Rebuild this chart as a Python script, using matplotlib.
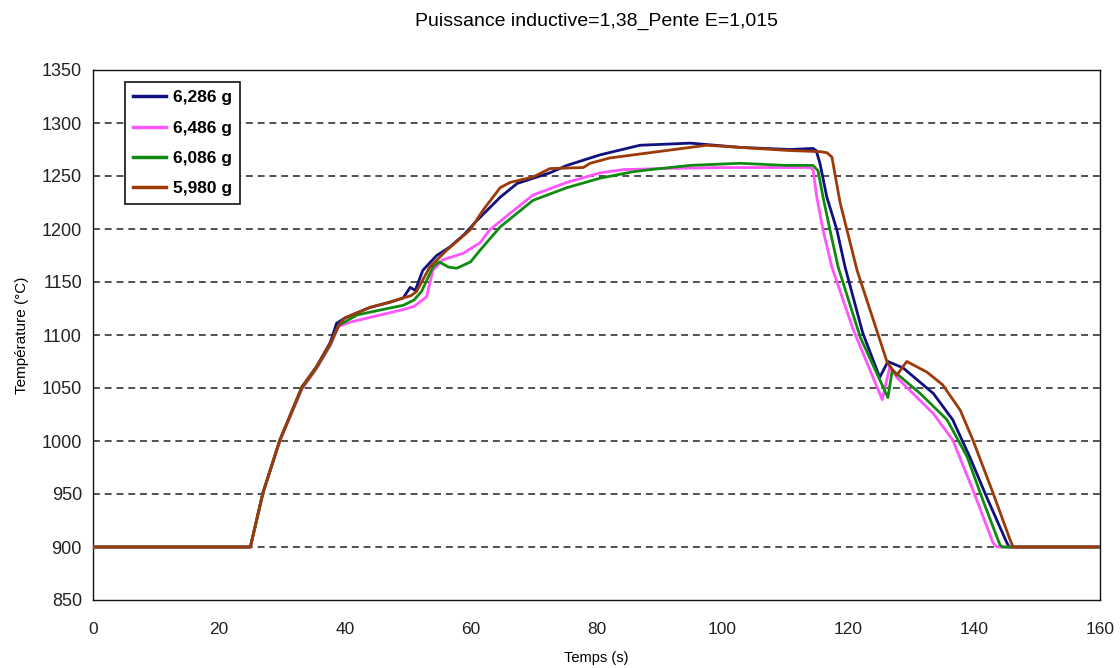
import matplotlib
matplotlib.use("Agg")
import matplotlib.pyplot as plt

plt.rcParams['font.family'] = ['Liberation Sans', 'DejaVu Sans']

# Temperature histories (time in s, temperature in °C)
t_6286 = [0, 25, 27, 29.7, 33.2, 35.5, 37.7, 38.7, 40, 44, 47.2, 49.3, 50.4, 51.2, 52.4,
          54.6, 56.7, 59, 61, 64.7, 67.4, 72.6, 75.3, 80.6, 86.9, 94.9, 102.8, 110.7,
          114.4, 114.9, 115.5, 116.6, 118.2, 119.5, 122.3, 125, 126.3, 128.7, 133.5,
          136.6, 139.3, 142, 145.2, 145.6, 160]
T_6286 = [900, 900, 951, 1001, 1051, 1070, 1093, 1111, 1116, 1126, 1131, 1135, 1145, 1142, 1161,
          1175, 1183, 1195, 1208, 1230, 1243, 1253, 1260, 1270, 1279, 1281, 1277, 1275,
          1276, 1274, 1262, 1230, 1199, 1164, 1102, 1060, 1075, 1069, 1045,
          1020, 985, 947, 904, 900, 900]

t_6486 = [0, 25, 27, 29.7, 33.2, 35.5, 37.7, 39, 40.8, 45, 49.3, 51, 53, 54, 55.6, 58.8,
          61.5, 63, 66.3, 69.9, 75.3, 80.6, 84.2, 90, 100, 108, 114, 114.4, 115, 116,
          117.4, 120.8, 125.4, 126.6, 127.7, 133.5, 136.6, 139.8, 143, 143.6, 160]
T_6486 = [900, 900, 951, 1000, 1049, 1068, 1090, 1108, 1112, 1118, 1124, 1127, 1136, 1161, 1171, 1177,
          1187, 1199, 1215, 1232, 1244, 1253, 1256, 1257, 1258, 1258, 1258, 1256, 1230, 1199,
          1164, 1105, 1039, 1070, 1060, 1026, 1001, 954, 904, 900, 900]

t_6086 = [0, 25, 27, 29.7, 33.2, 35.5, 37.7, 39, 42, 46, 49.3, 51, 52.2, 54, 55, 56.5,
          57.8, 60, 61.5, 64.7, 69.9, 75.3, 80.6, 85.8, 88.5, 94.9, 102.8, 110, 114.4,
          115.2, 116, 117.1, 118.4, 121.9, 126.3, 127, 131.4, 135.7, 138.9, 141.4, 144.1,
          144.5, 160]
T_6086 = [900, 900, 951, 1001, 1050, 1069, 1091, 1109, 1119, 1124, 1128, 1133, 1141, 1164, 1169, 1164,
          1163, 1169, 1180, 1202, 1227, 1239, 1248, 1254, 1256, 1260, 1262, 1260, 1260,
          1255, 1230, 1199, 1164, 1098, 1041, 1067, 1045, 1020, 985, 944, 902,
          900, 900]

t_5980 = [0, 25, 27, 29.7, 33.2, 35.5, 37.7, 39.2, 40, 44, 47.2, 49.3, 50.5, 51.4, 53.5,
          56.2, 59.9, 62, 64.7, 66.3, 69.9, 72.6, 77.9, 79, 82.1, 88.5, 97.5, 102.8,
          110.7, 115.5, 116.6, 117.4, 118.7, 121.4, 126.2, 127.7, 129.3, 132.5, 135,
          137.8, 139.8, 143, 145.7, 146.2, 160]
T_5980 = [900, 900, 951, 1001, 1051, 1070, 1092, 1111, 1116, 1126, 1131, 1135, 1137, 1141, 1164,
          1180, 1199, 1218, 1239, 1244, 1249, 1257, 1258, 1262, 1267, 1272, 1279, 1277,
          1274, 1273, 1272, 1268, 1225, 1161, 1074, 1062, 1075, 1065, 1053,
          1029, 1001, 951, 907, 900, 900]

series = [
    ("6,286 g", t_6286, T_6286, "#101080"),
    ("6,486 g", t_6486, T_6486, "#ff55ff"),
    ("6,086 g", t_6086, T_6086, "#118a11"),
    ("5,980 g", t_5980, T_5980, "#9c3a08"),
]

x_ticks = list(range(0, 161, 20))
y_ticks = list(range(850, 1351, 50))

fig = plt.figure(figsize=(11.2, 6.68), dpi=100)
ax = fig.add_axes([93 / 1120, 68 / 668, 1007 / 1120, 530 / 668])

for label, t, T, c in series:
    ax.plot(t, T, color=c, lw=2.0, label=label, zorder=3)

ax.set_xlim(0, 160)
ax.set_ylim(850, 1350)
ax.set_xticks(x_ticks)
ax.set_yticks(y_ticks)
ax.tick_params(axis='both', length=0, labelsize=13, pad=8, colors='#222222')
ax.tick_params(axis='x', labelsize=12.5, pad=16)

for y in y_ticks[1:-1]:
    ax.axhline(y, color='#222222', lw=1.1, dashes=(4.5, 3.2), zorder=1)

for s in ax.spines.values():
    s.set_color('#111111')
    s.set_linewidth(1.0)

ax.set_title("Puissance inductive=1,38_Pente E=1,015", fontsize=14, pad=32)
ax.set_xlabel("Temps (s)", fontsize=10.5, labelpad=10)
ax.set_ylabel("Température (°C)", fontsize=11, labelpad=9)

leg = ax.legend(loc='upper left', bbox_to_anchor=(0.032, 0.977),
                prop={'size': 12.5, 'weight': 'bold'},
                frameon=True, fancybox=False, edgecolor='#111111', framealpha=1,
                handlelength=1.9, handletextpad=0.4, labelspacing=0.88,
                borderpad=0.45, borderaxespad=0)
leg.get_frame().set_linewidth(1.2)
for h in leg.get_lines():
    h.set_linewidth(2.5)

fig.savefig("out.png", dpi=100)
